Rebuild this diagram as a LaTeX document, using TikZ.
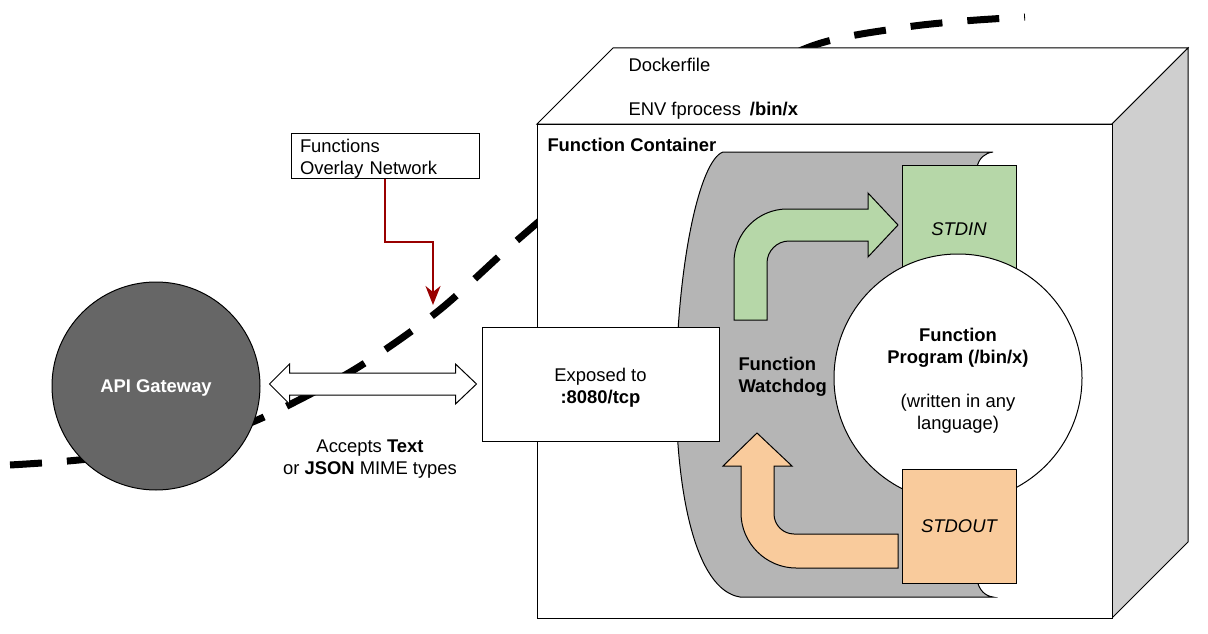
\documentclass[tikz,border=0pt]{standalone}
\usepackage{fontspec}
\setmainfont{Liberation Sans}
\usetikzlibrary{arrows.meta,calc}

\newcommand{\fs}{\fontsize{18.4}{22}\selectfont}
\definecolor{gwgray}{HTML}{666666}
\definecolor{dogray}{HTML}{B5B5B5}
\definecolor{sidegray}{HTML}{CFCFCF}
\definecolor{ingreen}{HTML}{B6D7A8}
\definecolor{outorange}{HTML}{F9CB9C}
\definecolor{netred}{HTML}{990000}

\tikzset{
  lbl/.style={font=\fs, inner sep=0pt, text height=13pt, text depth=0pt},
  txt/.style={font=\fs, inner sep=0pt},
  box/.style={draw, fill=white},
  netarrow/.style={draw=netred, line width=2pt, -{Stealth[length=19pt,width=15pt,inset=6pt]}},
}

\begin{document}
\begin{tikzpicture}[x=1pt,y=-1pt,line width=1pt]
	\useasboundingbox (0,0) rectangle (1208,634);

	% overlay network border
	\draw[line width=7pt, dash pattern=on 32pt off 25pt]
		plot[smooth] coordinates {(10,465) (88,459) (180,444) (255,421) (352,371) (437,312)
			(514,243) (600,171) (700,101) (812,46) (900,28) (964,21) (1025,17)};

	\node[circle, draw, fill=gwgray, minimum size=208pt, lbl, font=\fs\bfseries, text=white] (gw) at (156,386) {API Gateway};

	% container box
	\draw[fill=white] (537,124) -- (613,48) -- (1188,48) -- (1112,124) -- cycle;
	\draw[fill=sidegray] (1112,124) -- (1188,48) -- (1188,542) -- (1112,618) -- cycle;
	\draw[fill=white] (537,124) rectangle (1112,618);

	% watchdog
	\draw[fill=dogray] (723,152) -- (993,152) .. controls (985,153) and (979,158) .. (977,167)
		-- (977,580) .. controls (979,590) and (985,596) .. (993,597) -- (740,597)
		.. controls (695,590) and (675,490) .. (676,380) .. controls (678,260) and (700,160) .. (723,152) -- cycle;

	\draw[fill=ingreen] (734,320) -- (734,262) .. controls (734,233) and (758,209) .. (787,209)
		-- (868,209) -- (868,193) -- (898,225) -- (868,257) -- (868,241) -- (789,241)
		.. controls (777,241) and (767,251) .. (767,263) -- (767,320) -- cycle;
	\draw[fill=outorange] (898,534) -- (794,534) .. controls (783,534) and (774,525) .. (774,514)
		-- (774,466) -- (792,466) -- (757,433) -- (723,466) -- (741,466) -- (741,513)
		.. controls (741,543) and (766,568) .. (796,568) -- (898,568) -- cycle;

	\node[draw, fill=ingreen, minimum width=114pt, minimum height=128pt, lbl, font=\fs\itshape] (stdin) at (959,229) {STDIN};
	\node[circle, box, minimum size=248pt] (prog) at (958,378) {};
	\node[txt, align=center] (progtxt) at ($(prog)+(0,3)$)
		{\textbf{Function}\\\textbf{Program (/bin/x)}\\[22pt](written in any\\language)};
	\node[draw, fill=outorange, minimum width=114pt, minimum height=114pt, lbl, font=\fs\itshape] (stdout) at (959,526) {STDOUT};

	\node[box, minimum width=237pt, minimum height=114pt] (exposed) at (600.5,384) {};
	\node[txt, align=center] (exposedtxt) at ($(exposed)+(0,4)$) {Exposed to\\\textbf{:8080/tcp}};

	% texts
	\node[lbl, anchor=west] (docker) at (628,65) {Dockerfile};
	\node[lbl, anchor=west] (env) at (628,109) {ENV fprocess\hspace{9pt}\textbf{/bin/x}};
	\node[lbl, anchor=west, font=\fs\bfseries] (fc) at (547,145) {Function Container};
	\node[txt, anchor=west, align=left, font=\fs\bfseries] (dog) at (738,377) {Function\\Watchdog};
	\node[txt, align=center] (mime) at (370,459) {Accepts \textbf{Text}\\or \textbf{JSON} MIME types};

	% gateway <-> watchdog
	\coordinate (al) at ($(gw.east)+(9,-2)$);
	\coordinate (ar) at ($(exposed.west)+(-5,0)$);
	\draw[fill=white] (al) -- ++(20,-20) -- ++(0,9) -- ($(ar)+(-21,-11)$) -- ++(0,-9) -- (ar)
		-- ++(-21,20) -- ++(0,-9) -- ($(al)+(20,11)$) -- ++(0,9) -- cycle;

	% overlay network note
	\node[box, minimum width=188pt, minimum height=45pt] (note) at (385,155.5) {};
	\node[txt, text width=170pt, align=left] (notetxt) at ($(note)+(0,3)$) {Functions\\Overlay Network};
	\coordinate (nettip) at (433,305);
	\draw[netarrow] (note.south) |- ($(nettip)+(0,-63)$) -- (nettip);
\end{tikzpicture}
\end{document}
